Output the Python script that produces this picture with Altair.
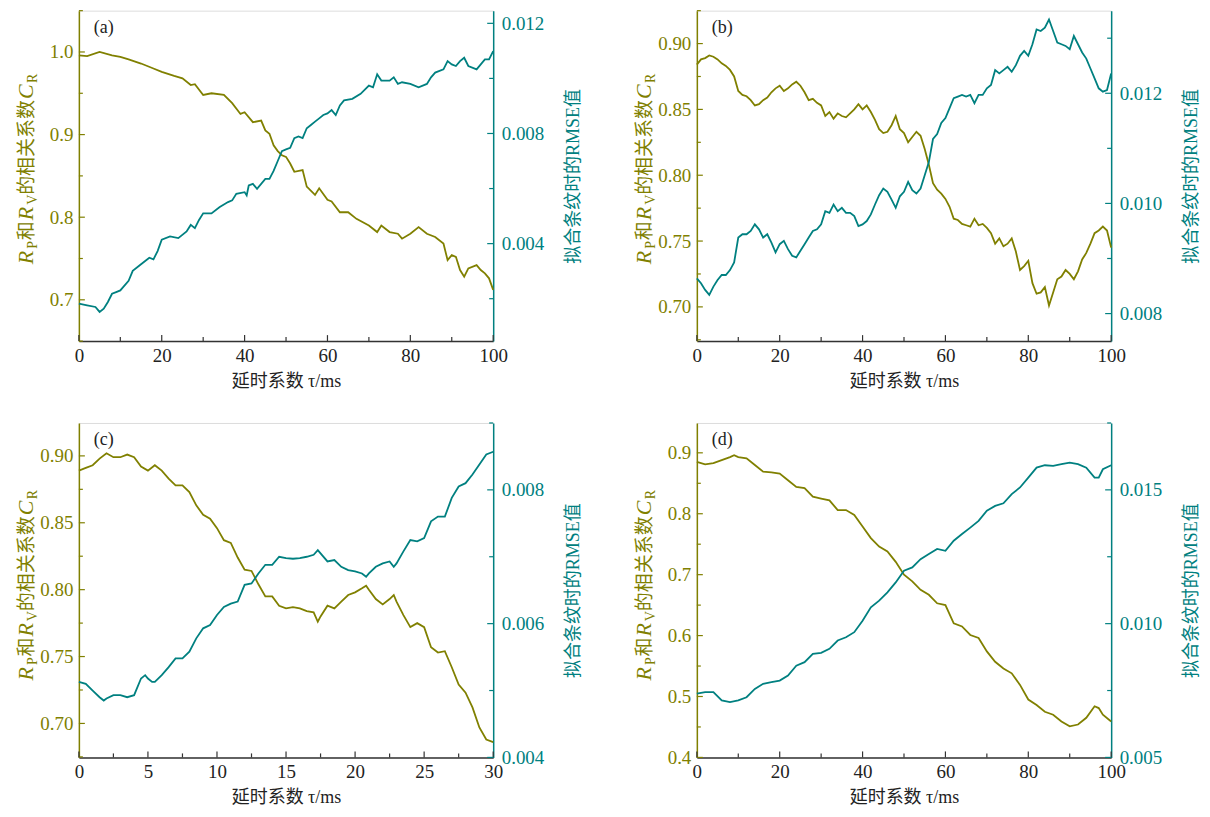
import altair as alt
import pandas as pd

OLIVE = "#808000"
TEAL = "#008080"
DARK = "#222222"
SERIF = "Liberation Serif"
MIX = '"Liberation Serif", "Noto Sans CJK SC", serif'
CJK = "Noto Sans CJK SC"

# ---------------- data ----------------
# (a)
a_olive_t = [0, 2, 5, 8, 10, 12, 15, 18, 20, 23, 25, 27, 28, 30, 32, 35, 37, 39, 40, 42,
             44, 45, 46, 47, 48, 49, 50, 51, 52, 54, 55, 57, 58, 60, 61, 63, 65, 67, 70, 72,
             73, 75, 77, 78, 80, 82, 84, 86, 88, 89, 90, 91, 92, 93, 94, 96, 97, 98, 99, 100]
a_olive_v = [0.996, 0.995, 1.000, 0.996, 0.994, 0.991, 0.986, 0.980, 0.976, 0.971,
             0.968, 0.960, 0.961, 0.948, 0.950, 0.948, 0.938, 0.925, 0.927, 0.915,
             0.917, 0.905, 0.901, 0.887, 0.880, 0.875, 0.873, 0.865, 0.855, 0.857,
             0.837, 0.827, 0.835, 0.821, 0.819, 0.806, 0.806, 0.798, 0.790, 0.782,
             0.790, 0.782, 0.780, 0.774, 0.780, 0.788, 0.780, 0.776, 0.768, 0.748,
             0.754, 0.752, 0.736, 0.728, 0.738, 0.742, 0.736, 0.732, 0.726, 0.712]
a_teal_t = [0, 2, 4, 5, 6, 7, 8, 9, 10, 12, 13, 15, 17, 18, 19, 20, 22, 24, 26, 27,
            28, 29, 30, 32, 34, 36, 37, 38, 40, 40.5, 41, 42, 43, 45, 46, 47, 48, 49, 50, 51,
            52, 53, 54, 55, 56, 57, 58, 59, 60, 61, 62, 63, 64, 66, 68, 70, 71, 72, 73, 75,
            76, 77, 78, 80, 82, 84, 85, 86, 88, 89, 90, 91, 92, 93, 94, 96, 97, 98, 99, 100]
a_teal_v = [0.00182, 0.00176, 0.00170, 0.00152, 0.00164, 0.00188, 0.00218, 0.00224, 0.00230, 0.00265,
            0.00301, 0.00325, 0.00349, 0.00343, 0.00373, 0.00414, 0.00426, 0.00420, 0.00444, 0.00468,
            0.00456, 0.00486, 0.00510, 0.00510, 0.00533, 0.00551, 0.00557, 0.00581, 0.00587, 0.00575,
            0.00611, 0.00617, 0.00599, 0.00635, 0.00635, 0.00664, 0.00700, 0.00736, 0.00742, 0.00748,
            0.00783, 0.00789, 0.00783, 0.00819, 0.00831, 0.00843, 0.00855, 0.00867, 0.00873, 0.00885,
            0.00867, 0.00902, 0.00920, 0.00926, 0.00944, 0.00974, 0.00968, 0.01015, 0.00992, 0.00992,
            0.01004, 0.00980, 0.00986, 0.00980, 0.00968, 0.00980, 0.01004, 0.01021, 0.01033, 0.01063,
            0.01051, 0.01045, 0.01063, 0.01075, 0.01045, 0.01033, 0.01051, 0.01069, 0.01069, 0.01099]

# (b)
b_t = list(range(0, 101))
b_olive_v = [0.884, 0.888, 0.889, 0.891, 0.890, 0.888, 0.885, 0.883, 0.880, 0.875,
             0.864, 0.861, 0.860, 0.857, 0.853, 0.854, 0.857, 0.859, 0.863, 0.866,
             0.868, 0.864, 0.866, 0.869, 0.871, 0.868, 0.863, 0.857, 0.858, 0.855,
             0.853, 0.845, 0.848, 0.843, 0.847, 0.845, 0.844, 0.847, 0.850, 0.854,
             0.850, 0.853, 0.848, 0.842, 0.835, 0.832, 0.833, 0.838, 0.845, 0.835,
             0.832, 0.825, 0.829, 0.833, 0.830, 0.820, 0.808, 0.794, 0.789, 0.786,
             0.782, 0.776, 0.767, 0.766, 0.763, 0.762, 0.761, 0.767, 0.762, 0.763,
             0.760, 0.756, 0.748, 0.752, 0.746, 0.748, 0.752, 0.742, 0.728, 0.731,
             0.735, 0.718, 0.710, 0.711, 0.715, 0.701, 0.711, 0.721, 0.723, 0.728,
             0.725, 0.721, 0.727, 0.736, 0.741, 0.748, 0.756, 0.758, 0.761, 0.758,
             0.745]
b_teal_v = [0.00864, 0.00855, 0.00843, 0.00834, 0.00849, 0.00861, 0.00870, 0.00870, 0.00879, 0.00893,
            0.00938, 0.00944, 0.00944, 0.00950, 0.00962, 0.00953, 0.00938, 0.00944, 0.00929, 0.00911,
            0.00926, 0.00932, 0.00917, 0.00905, 0.00902, 0.00914, 0.00926, 0.00938, 0.00950, 0.00953,
            0.00962, 0.00986, 0.00983, 0.00998, 0.00986, 0.00992, 0.00983, 0.00983, 0.00977, 0.00959,
            0.00962, 0.00968, 0.00980, 0.00998, 0.01015, 0.01027, 0.01021, 0.01007, 0.00992, 0.01013,
            0.01021, 0.01039, 0.01024, 0.01018, 0.01027, 0.01051, 0.01075, 0.01117, 0.01126, 0.01146,
            0.01155, 0.01173, 0.01191, 0.01194, 0.01197, 0.01194, 0.01197, 0.01182, 0.01197, 0.01197,
            0.01209, 0.01215, 0.01242, 0.01236, 0.01242, 0.01248, 0.01239, 0.01251, 0.01268, 0.01277,
            0.01268, 0.01289, 0.01316, 0.01313, 0.01319, 0.01334, 0.01313, 0.01292, 0.01289, 0.01286,
            0.01280, 0.01304, 0.01289, 0.01274, 0.01263, 0.01245, 0.01227, 0.01209, 0.01203, 0.01206,
            0.01236]

# (c)
c_olive_t = [0, 0.5, 1, 1.5, 2, 2.5, 3, 3.5, 4, 4.5, 5, 5.5, 6, 6.5, 7, 7.5, 8, 8.5, 9, 9.5,
             10, 10.5, 11, 11.5, 12, 12.5, 13, 13.5, 14, 14.5, 15, 15.5, 16, 16.5, 17, 17.3, 17.5,
             18, 18.5, 19, 19.5, 20, 20.5, 20.8, 21, 21.5, 22, 22.5, 22.8,
             23, 23.5, 24, 24.5, 25, 25.5, 26, 26.5, 27, 27.5, 28, 28.5, 29, 29.5, 30]
c_olive_v = [0.889, 0.891, 0.893, 0.898, 0.902, 0.899, 0.899, 0.901, 0.899, 0.892,
             0.889, 0.893, 0.889, 0.883, 0.878, 0.878, 0.873, 0.863, 0.856, 0.853,
             0.846, 0.837, 0.835, 0.824, 0.815, 0.814, 0.804, 0.795, 0.795, 0.788,
             0.786, 0.787, 0.786, 0.784, 0.783, 0.776, 0.780,
             0.788, 0.786, 0.791, 0.796, 0.798, 0.801, 0.803, 0.800, 0.793, 0.789, 0.793, 0.796,
             0.791, 0.781, 0.772, 0.775, 0.772, 0.757, 0.753, 0.754, 0.742, 0.729, 0.723, 0.712,
             0.697, 0.688, 0.686]
c_teal_t = [0, 0.5, 1, 1.5, 1.8, 2, 2.5, 3, 3.5, 4, 4.5, 4.8, 5, 5.3, 5.5, 6, 6.5, 7, 7.5, 8,
            8.5, 9, 9.5, 10, 10.5, 11, 11.5, 12, 12.5, 13, 13.5, 14, 14.5, 15, 15.5, 16, 16.5, 17,
            17.3, 17.5, 18, 18.5, 19, 19.5, 20, 20.5, 20.8, 21, 21.5, 22, 22.5, 22.8, 23, 23.5,
            24, 24.5, 25, 25.5, 26, 26.5, 27, 27.5, 28, 28.5, 29, 29.5, 30]
c_teal_v = [0.00513, 0.00510, 0.00500, 0.00490, 0.00485, 0.00488, 0.00493, 0.00493, 0.00490, 0.00493,
            0.00518, 0.00523, 0.00518, 0.00513, 0.00513, 0.00523, 0.00535, 0.00548, 0.00548, 0.00558,
            0.00578, 0.00593, 0.00598, 0.00613, 0.00625, 0.00630, 0.00633, 0.00658, 0.00660, 0.00675,
            0.00688, 0.00688, 0.00700, 0.00698, 0.00697, 0.00698, 0.00700, 0.00703, 0.00710, 0.00705,
            0.00693, 0.00695, 0.00685, 0.00680, 0.00678, 0.00675, 0.00670, 0.00675, 0.00685, 0.00690,
            0.00693, 0.00685, 0.00690, 0.00708, 0.00725, 0.00723, 0.00728, 0.00753, 0.00760, 0.00760,
            0.00788, 0.00805, 0.00810, 0.00823, 0.00838, 0.00853, 0.00857]

# (d)
d_olive_t = [0, 2, 4, 6, 8, 9, 10, 12, 14, 16, 18, 20, 22, 24, 26, 28, 30, 32, 34, 36, 38,
             40, 42, 44, 46, 48, 50, 52, 54, 56, 58, 60, 62, 64, 66, 68, 70, 72, 74, 76, 78,
             80, 82, 84, 86, 88, 90, 92, 94, 96, 97, 98, 100]
d_olive_v = [0.885, 0.881, 0.883, 0.888, 0.893, 0.896, 0.893, 0.891, 0.880, 0.869, 0.868,
             0.866, 0.855, 0.844, 0.842, 0.828, 0.825, 0.822, 0.806, 0.806, 0.798,
             0.779, 0.760, 0.746, 0.738, 0.721, 0.700, 0.689, 0.675, 0.667, 0.653,
             0.650, 0.620, 0.615, 0.601, 0.596, 0.574, 0.557, 0.546, 0.538, 0.519,
             0.495, 0.486, 0.475, 0.470, 0.459, 0.451, 0.454, 0.465, 0.484, 0.481, 0.470, 0.459]
d_teal_t = [0, 2, 4, 6, 8, 10, 12, 14, 16, 18, 20, 22, 24, 26, 28, 30, 32, 34, 36, 38,
            40, 42, 44, 46, 48, 50, 52, 54, 56, 58, 60, 62, 64, 66, 68, 70, 72, 74, 76, 78,
            80, 82, 84, 86, 88, 90, 92, 94, 96, 97, 98, 100]
d_teal_v = [0.00738, 0.00744, 0.00744, 0.00713, 0.00707, 0.00713, 0.00725, 0.00756, 0.00775, 0.00781,
            0.00787, 0.00806, 0.00843, 0.00856, 0.00887, 0.00891, 0.00906, 0.00937, 0.00949, 0.00968,
            0.01011, 0.01061, 0.01086, 0.01117, 0.01154, 0.01198, 0.01210, 0.01241, 0.01260, 0.01279,
            0.01272, 0.01310, 0.01335, 0.01359, 0.01384, 0.01422, 0.01440, 0.01450, 0.01484, 0.01509,
            0.01546, 0.01583, 0.01592, 0.01590, 0.01596, 0.01602, 0.01596, 0.01583, 0.01546, 0.01546,
            0.01577, 0.01592]

# ---------------- axes / ticks ----------------
x100_major = [0, 20, 40, 60, 80, 100]
x100_minor = [10, 30, 50, 70, 90]
x30_major = [0, 5, 10, 15, 20, 25, 30]
x30_minor = [2.5, 7.5, 12.5, 17.5, 22.5, 27.5]

X_TITLE = "延时系数 τ/ms"
R_TITLE = "拟合条纹时的RMSE值"

ONE = pd.DataFrame({"k": [0]})
LABEL_SIZE = 19


def left_title_pieces(h):
    # R_P 和 R_V 的相关系数 C_R, written bottom-to-top
    parts = [
        ("R", SERIF, 22, "italic", False, 15.5),
        ("P", SERIF, 14, "normal", True, 8.5),
        ("和", CJK, 19, "normal", False, 20.0),
        ("R", SERIF, 22, "italic", False, 15.5),
        ("V", SERIF, 14, "normal", True, 10.0),
        ("的相关系数", CJK, 19, "normal", False, 96.0),
        ("C", SERIF, 22, "italic", False, 16.0),
        ("R", SERIF, 14, "normal", True, 10.0),
    ]
    pos = h - 77
    layers = []
    for text, font, size, style, sub, adv in parts:
        xpos = -42 if sub else -46
        layers.append(
            alt.Chart(ONE).mark_text(
                text=text, font=font, fontSize=size, fontStyle=style, angle=270,
                align="left", baseline="alphabetic", color=OLIVE,
            ).encode(x=alt.value(xpos), y=alt.value(pos))
        )
        pos -= adv
    return layers


def panel(tag, t_o, v_o, t_t, v_t, xdom, xmaj, xmin, ldom, lmaj, lmin, lfmt,
          rdom, rmaj, rmin, rfmt, w, h):
    df_o = pd.DataFrame({"t": t_o, "v": v_o})
    df_t = pd.DataFrame({"t": t_t, "v": v_t})

    xscale = alt.Scale(domain=xdom, nice=False, zero=False)
    lscale = alt.Scale(domain=ldom, nice=False, zero=False)
    rscale = alt.Scale(domain=rdom, nice=False, zero=False)

    xaxis = alt.Axis(values=xmaj, format="d", ticks=False, grid=False,
                     domainColor="#333333", domainWidth=1.5,
                     labelColor=DARK, labelFont=SERIF, labelFontSize=LABEL_SIZE,
                     labelPadding=5, labelFlush=False,
                     title=X_TITLE, titleFont=MIX, titleFontSize=18,
                     titleFontWeight="normal", titleColor=DARK, titlePadding=7)
    laxis = alt.Axis(orient="left", values=lmaj, format=lfmt, ticks=False, grid=False,
                     domainColor=OLIVE, domainWidth=1.5,
                     labelColor=OLIVE, labelFont=SERIF, labelFontSize=LABEL_SIZE,
                     labelPadding=6, labelFlush=False, title=None)
    raxis = alt.Axis(orient="right", values=rmaj, format=rfmt, ticks=False, grid=False,
                     domainColor=TEAL, domainWidth=1.5,
                     labelColor=TEAL, labelFont=SERIF, labelFontSize=LABEL_SIZE,
                     labelPadding=8, labelFlush=False,
                     title=R_TITLE, titleAngle=270, titleBaseline="top",
                     titleColor=TEAL, titleFont=MIX, titleFontSize=18,
                     titleFontWeight="normal", titlePadding=21)

    X = alt.X("t:Q", scale=xscale, axis=xaxis)
    YL = alt.Y("v:Q", scale=lscale, axis=laxis)
    YR = alt.Y("v:Q", scale=rscale, axis=raxis)

    olive_line = alt.Chart(df_o).mark_line(color=OLIVE, strokeWidth=1.8).encode(x=X, y=YL)
    l_major = alt.Chart(pd.DataFrame({"v": lmaj})).mark_rule(color=OLIVE, strokeWidth=1.2).encode(
        y=YL, x=alt.value(0), x2=alt.value(6))
    l_minor = alt.Chart(pd.DataFrame({"v": lmin})).mark_rule(color=OLIVE, strokeWidth=1.2).encode(
        y=YL, x=alt.value(0), x2=alt.value(4))
    b_major = alt.Chart(pd.DataFrame({"t": xmaj})).mark_rule(color="#333333", strokeWidth=1.2).encode(
        x=X, y=alt.value(h - 6), y2=alt.value(h))
    b_minor = alt.Chart(pd.DataFrame({"t": xmin})).mark_rule(color="#333333", strokeWidth=1.2).encode(
        x=X, y=alt.value(h - 4), y2=alt.value(h))
    olive = alt.layer(olive_line, l_major, l_minor, b_major, b_minor)

    teal_line = alt.Chart(df_t).mark_line(color=TEAL, strokeWidth=1.8).encode(x=X, y=YR)
    r_major = alt.Chart(pd.DataFrame({"v": rmaj})).mark_rule(color=TEAL, strokeWidth=1.2).encode(
        y=YR, x=alt.value(w - 6), x2=alt.value(w))
    r_minor = alt.Chart(pd.DataFrame({"v": rmin})).mark_rule(color=TEAL, strokeWidth=1.2).encode(
        y=YR, x=alt.value(w - 4), x2=alt.value(w))
    teal = alt.layer(teal_line, r_major, r_minor)

    label = alt.Chart(ONE).mark_text(text=f"({tag})", font=SERIF, fontSize=18, color=DARK,
                                     align="left", baseline="middle").encode(
        x=alt.value(15), y=alt.value(17))

    return alt.layer(olive, teal, label, *left_title_pieces(h)).resolve_scale(
        y="independent").properties(width=w, height=h)


W = 415
H_TOP = 331
H_BOT = 335

pa = panel("a", a_olive_t, a_olive_v, a_teal_t, a_teal_v, [0, 100], x100_major, x100_minor,
           [0.65, 1.05], [0.7, 0.8, 0.9, 1.0], [0.65, 0.75, 0.85, 0.95, 1.05], ".1f",
           [0.00046, 0.01246], [0.004, 0.008, 0.012], [0.002, 0.006, 0.010], ".3f", W, H_TOP)
pb = panel("b", b_t, b_olive_v, b_t, b_teal_v, [0, 100], x100_major, x100_minor,
           [0.674, 0.925], [0.70, 0.75, 0.80, 0.85, 0.90], [0.675, 0.725, 0.775, 0.825, 0.875, 0.925], ".2f",
           [0.0075, 0.0135], [0.008, 0.010, 0.012], [0.009, 0.011, 0.013], ".3f", W, H_TOP)
pc = panel("c", c_olive_t, c_olive_v, c_teal_t, c_teal_v, [0, 30], x30_major, x30_minor,
           [0.6746, 0.9246], [0.70, 0.75, 0.80, 0.85, 0.90], [0.675, 0.725, 0.775, 0.825, 0.875], ".2f",
           [0.004, 0.009], [0.004, 0.006, 0.008], [0.005, 0.007, 0.009], ".3f", W, H_BOT)
pd_ = panel("d", d_olive_t, d_olive_v, d_teal_t, d_teal_v, [0, 100], x100_major, x100_minor,
            [0.4, 0.949], [0.4, 0.5, 0.6, 0.7, 0.8, 0.9], [0.45, 0.55, 0.65, 0.75, 0.85], ".1f",
            [0.005, 0.0175], [0.005, 0.010, 0.015], [0.0075, 0.0125, 0.0175], ".3f", W, H_BOT)

top = alt.hconcat(pa, pb, spacing=48)
bottom = alt.hconcat(pc, pd_, spacing=48)
chart = alt.vconcat(top, bottom, spacing=30).properties(
    padding={"left": 6, "top": 0, "right": 0, "bottom": 0}
).configure_view(stroke=TEAL, strokeWidth=1.5).configure(background="white")

chart.save("out.html", embed_options={"renderer": "svg", "actions": False})
